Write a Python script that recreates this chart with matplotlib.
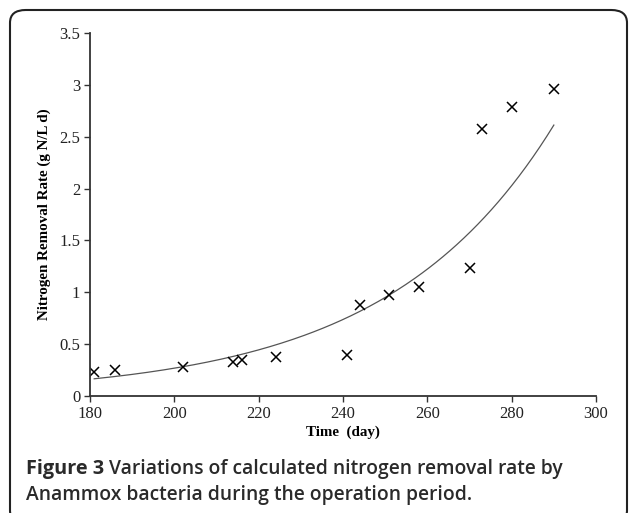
import matplotlib.pyplot as plt
import numpy as np
from matplotlib.patches import FancyBboxPatch

days = [181, 186, 202, 214, 216, 224, 241, 244, 251, 258, 270, 273, 280, 290]
rates = [0.23, 0.25, 0.28, 0.33, 0.35, 0.38, 0.40, 0.88, 0.97, 1.05, 1.23, 2.57, 2.79, 2.96]

x_ticks = [180, 200, 220, 240, 260, 280, 300]
y_ticks = [0, 0.5, 1, 1.5, 2, 2.5, 3, 3.5]
y_ticklabels = ["0", "0.5", "1", "1.5", "2", "2.5", "3", "3.5"]

# exponential trendline (least squares on log values)
b, ln_a = np.polyfit(days, np.log(rates), 1)
fit_x = np.linspace(min(days), max(days), 200)
fit_y = np.exp(ln_a + b * fit_x)

fig = plt.figure(figsize=(6.3, 5.13), dpi=100)
ax = fig.add_axes([90 / 630, 1 - 396 / 513, (596 - 90) / 630, (396 - 33) / 513])

ax.plot(fit_x, fit_y, color='#555555', linewidth=0.9)
ax.plot(days, rates, linestyle='none', marker='x', markersize=7.5, markeredgewidth=1.1, color='black')

ax.set_xlim(180, 300)
ax.set_ylim(0, 3.5)
ax.set_xticks(x_ticks)
ax.set_yticks(y_ticks)
ax.set_yticklabels(y_ticklabels)
for s in ['top', 'right']:
    ax.spines[s].set_visible(False)
for s in ['left', 'bottom']:
    ax.spines[s].set_color('#333333')
    ax.spines[s].set_linewidth(1.3)
ax.tick_params(axis='both', direction='out', length=4, width=1, color='#333333',
               labelsize=12, labelcolor='#222222', pad=3)
for lab in ax.get_xticklabels() + ax.get_yticklabels():
    lab.set_family('Liberation Serif')

ax.set_xlabel("Time  (day)", family='Liberation Serif', fontweight='bold', fontsize=10.8, labelpad=3)
ax.set_ylabel("Nitrogen Removal Rate (g N/L d)", family='Liberation Serif', fontweight='bold',
              fontsize=10.8, labelpad=6)

box = FancyBboxPatch((10 / 630, -0.02), 617 / 630, 1 - 10 / 513 + 0.02, boxstyle='round,pad=0,rounding_size=0.025',
                     transform=fig.transFigure, facecolor='none', edgecolor='#222222', linewidth=1.5,
                     clip_on=False)
fig.patches.append(box)

cap_y1 = 1 - 469 / 513
cap_y2 = 1 - 495 / 513
t1 = fig.text(26 / 630, cap_y1, "Figure 3", family='Open Sans', fontweight='bold', fontsize=14.3,
              color='#2a2a2a', va='center')
fig.canvas.draw()
bb = t1.get_window_extent()
fig.text(bb.x1 / fig.bbox.width + 5 / 630, cap_y1,
         "Variations of calculated nitrogen removal rate by", family='Open Sans', fontweight='semibold',
         fontsize=13.9, color='#2a2a2a', va='center')
fig.text(26 / 630, cap_y2, "Anammox bacteria during the operation period.", family='Open Sans',
         fontweight='semibold', fontsize=13.9, color='#2a2a2a', va='center')

plt.savefig("out.png", dpi=100)
